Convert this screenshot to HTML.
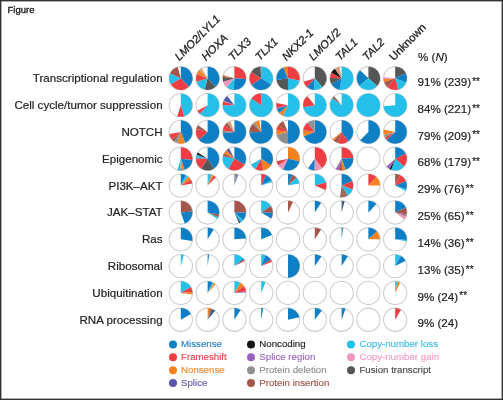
<!DOCTYPE html>
<html><head><meta charset="utf-8"><style>
html,body{margin:0;padding:0;background:#fff;}
svg{display:block;will-change:transform;}
text{font-family:"Liberation Sans",sans-serif;}
.lab{font-size:11.6px;fill:#222;stroke:#222;stroke-width:0.2px;}
.st{font-size:10px;}
.hd{font-size:11.2px;fill:#222;font-style:italic;stroke:#222;stroke-width:0.3px;}
.ur{font-style:normal;}
.lg{font-size:9.7px;}
.fig{font-size:9.5px;fill:#222;stroke:#222;stroke-width:0.35px;}
</style></head><body>
<svg width="503" height="400" viewBox="0 0 503 400">
<rect x="0" y="0" width="503" height="400" fill="#fff" stroke="#333" stroke-width="2.8"/>
<text x="7.5" y="13.2" class="fig">Figure</text>
<circle cx="180.80" cy="78.30" r="11.65" fill="#fff" stroke="#cdcdcd" stroke-width="1.1"/><path d="M180.80 78.30L180.80 66.65A11.65 11.65 0 0 1 188.75 86.82Z" fill="#0f7fc5"/><path d="M180.80 78.30L188.75 86.82A11.65 11.65 0 0 1 170.81 84.30Z" fill="#ee3d43"/><path d="M180.80 78.30L170.81 84.30A11.65 11.65 0 0 1 170.24 73.38Z" fill="#24c0e9"/><path d="M180.80 78.30L170.24 73.38A11.65 11.65 0 0 1 177.78 67.05Z" fill="#a4564b"/><circle cx="207.60" cy="78.30" r="11.65" fill="#fff" stroke="#cdcdcd" stroke-width="1.1"/><path d="M207.60 78.30L207.60 66.65A11.65 11.65 0 0 1 215.55 86.82Z" fill="#0f7fc5"/><path d="M207.60 78.30L215.55 86.82A11.65 11.65 0 0 1 204.58 89.55Z" fill="#555656"/><path d="M207.60 78.30L204.58 89.55A11.65 11.65 0 0 1 196.46 81.71Z" fill="#24c0e9"/><path d="M207.60 78.30L196.46 81.71A11.65 11.65 0 0 1 196.80 73.94Z" fill="#ee3d43"/><path d="M207.60 78.30L196.80 73.94A11.65 11.65 0 0 1 199.36 70.06Z" fill="#f5821f"/><path d="M207.60 78.30L199.36 70.06A11.65 11.65 0 0 1 201.60 68.31Z" fill="#d9a080"/><circle cx="234.40" cy="78.30" r="11.65" fill="#fff" stroke="#cdcdcd" stroke-width="1.1"/><path d="M234.40 78.30L234.40 66.65A11.65 11.65 0 0 1 246.02 79.11Z" fill="#ee3d43"/><path d="M234.40 78.30L246.02 79.11A11.65 11.65 0 0 1 233.79 89.93Z" fill="#0f7fc5"/><path d="M234.40 78.30L233.79 89.93A11.65 11.65 0 0 1 226.91 87.22Z" fill="#24c0e9"/><path d="M234.40 78.30L226.91 87.22A11.65 11.65 0 0 1 223.26 81.71Z" fill="#ee95bb"/><path d="M234.40 78.30L223.26 81.71A11.65 11.65 0 0 1 222.81 77.08Z" fill="#555656"/><path d="M234.40 78.30L222.81 77.08A11.65 11.65 0 0 1 223.05 75.68Z" fill="#a4564b"/><path d="M234.40 78.30L223.05 75.68A11.65 11.65 0 0 1 223.26 74.89Z" fill="#f5821f"/><circle cx="261.20" cy="78.30" r="11.65" fill="#fff" stroke="#cdcdcd" stroke-width="1.1"/><path d="M261.20 78.30L261.20 66.65A11.65 11.65 0 0 1 271.08 84.47Z" fill="#24c0e9"/><path d="M261.20 78.30L271.08 84.47A11.65 11.65 0 0 1 251.54 84.81Z" fill="#0f7fc5"/><path d="M261.20 78.30L251.54 84.81A11.65 11.65 0 0 1 251.21 72.30Z" fill="#ee3d43"/><path d="M261.20 78.30L251.21 72.30A11.65 11.65 0 0 1 260.39 66.68Z" fill="#555656"/><path d="M261.20 78.30L260.39 66.68A11.65 11.65 0 0 1 261.20 66.65Z" fill="#a4564b"/><circle cx="288.00" cy="78.30" r="11.65" fill="#fff" stroke="#cdcdcd" stroke-width="1.1"/><path d="M288.00 78.30L288.00 66.65A11.65 11.65 0 0 1 299.40 80.72Z" fill="#ee3d43"/><path d="M288.00 78.30L299.40 80.72A11.65 11.65 0 0 1 288.00 89.95Z" fill="#24c0e9"/><path d="M288.00 78.30L288.00 89.95A11.65 11.65 0 0 1 276.49 80.12Z" fill="#555656"/><path d="M288.00 78.30L276.49 80.12A11.65 11.65 0 0 1 283.45 67.58Z" fill="#0f7fc5"/><path d="M288.00 78.30L283.45 67.58A11.65 11.65 0 0 1 288.00 66.65Z" fill="#f5821f"/><circle cx="314.80" cy="78.30" r="11.65" fill="#fff" stroke="#cdcdcd" stroke-width="1.1"/><path d="M314.80 78.30L314.80 66.65A11.65 11.65 0 0 1 322.29 87.22Z" fill="#555656"/><path d="M314.80 78.30L322.29 87.22A11.65 11.65 0 0 1 313.78 89.91Z" fill="#24c0e9"/><path d="M314.80 78.30L313.78 89.91A11.65 11.65 0 0 1 307.00 86.96Z" fill="#0f7fc5"/><path d="M314.80 78.30L307.00 86.96A11.65 11.65 0 0 1 303.66 81.71Z" fill="#ee3d43"/><circle cx="341.60" cy="78.30" r="11.65" fill="#fff" stroke="#cdcdcd" stroke-width="1.1"/><path d="M341.60 78.30L341.60 66.65A11.65 11.65 0 1 1 339.58 89.77Z" fill="#24c0e9"/><path d="M341.60 78.30L339.58 89.77A11.65 11.65 0 0 1 331.51 84.12Z" fill="#0f7fc5"/><path d="M341.60 78.30L331.51 84.12A11.65 11.65 0 0 1 329.96 77.89Z" fill="#555656"/><path d="M341.60 78.30L329.96 77.89A11.65 11.65 0 0 1 331.31 72.83Z" fill="#ee3d43"/><path d="M341.60 78.30L331.31 72.83A11.65 11.65 0 0 1 334.92 68.76Z" fill="#151515"/><path d="M341.60 78.30L334.92 68.76A11.65 11.65 0 0 1 339.58 66.83Z" fill="#d9a080"/><circle cx="368.40" cy="78.30" r="11.65" fill="#fff" stroke="#cdcdcd" stroke-width="1.1"/><path d="M368.40 78.30L368.40 66.65A11.65 11.65 0 0 1 377.06 86.10Z" fill="#555656"/><path d="M368.40 78.30L377.06 86.10A11.65 11.65 0 0 1 359.35 85.63Z" fill="#24c0e9"/><path d="M368.40 78.30L359.35 85.63A11.65 11.65 0 0 1 360.02 70.21Z" fill="#0f7fc5"/><circle cx="395.20" cy="78.30" r="11.65" fill="#fff" stroke="#cdcdcd" stroke-width="1.1"/><path d="M395.20 78.30L395.20 66.65A11.65 11.65 0 0 1 405.84 73.56Z" fill="#555656"/><path d="M395.20 78.30L405.84 73.56A11.65 11.65 0 0 1 406.00 82.66Z" fill="#0f7fc5"/><path d="M395.20 78.30L406.00 82.66A11.65 11.65 0 0 1 398.22 89.55Z" fill="#24c0e9"/><path d="M395.20 78.30L398.22 89.55A11.65 11.65 0 0 1 387.40 86.96Z" fill="#ee3d43"/><path d="M395.20 78.30L387.40 86.96A11.65 11.65 0 0 1 384.12 81.90Z" fill="#a4564b"/><path d="M395.20 78.30L384.12 81.90A11.65 11.65 0 0 1 383.58 79.11Z" fill="#f5821f"/><path d="M395.20 78.30L383.58 79.11A11.65 11.65 0 0 1 383.64 76.88Z" fill="#ee95bb"/><circle cx="180.80" cy="105.13" r="11.65" fill="#fff" stroke="#cdcdcd" stroke-width="1.1"/><path d="M180.80 105.13L180.80 93.48A11.65 11.65 0 0 1 184.21 116.27Z" fill="#24c0e9"/><path d="M180.80 105.13L184.21 116.27A11.65 11.65 0 0 1 177.20 116.21Z" fill="#ee3d43"/><circle cx="207.60" cy="105.13" r="11.65" fill="#fff" stroke="#cdcdcd" stroke-width="1.1"/><path d="M207.60 105.13L207.60 93.48A11.65 11.65 0 1 1 199.80 113.79Z" fill="#24c0e9"/><path d="M207.60 105.13L199.80 113.79A11.65 11.65 0 0 1 197.41 110.78Z" fill="#ee3d43"/><circle cx="234.40" cy="105.13" r="11.65" fill="#fff" stroke="#cdcdcd" stroke-width="1.1"/><path d="M234.40 105.13L234.40 93.48A11.65 11.65 0 1 1 222.75 105.13Z" fill="#24c0e9"/><path d="M234.40 105.13L222.75 105.13A11.65 11.65 0 0 1 223.38 101.34Z" fill="#ee3d43"/><path d="M234.40 105.13L223.60 100.77A11.65 11.65 0 0 1 227.23 95.95Z" fill="#4a5ca8"/><circle cx="261.20" cy="105.13" r="11.65" fill="#fff" stroke="#cdcdcd" stroke-width="1.1"/><path d="M261.20 105.13L261.20 93.48A11.65 11.65 0 1 1 251.54 98.62Z" fill="#24c0e9"/><path d="M261.20 105.13L251.54 98.62A11.65 11.65 0 0 1 261.20 93.48Z" fill="#ee3d43"/><circle cx="288.00" cy="105.13" r="11.65" fill="#fff" stroke="#cdcdcd" stroke-width="1.1"/><path d="M288.00 105.13L288.00 93.48A11.65 11.65 0 1 1 283.08 115.69Z" fill="#24c0e9"/><path d="M288.00 105.13L283.08 115.69A11.65 11.65 0 0 1 279.34 112.93Z" fill="#f5821f"/><path d="M288.00 105.13L279.34 112.93A11.65 11.65 0 0 1 276.92 108.73Z" fill="#0f7fc5"/><path d="M288.00 105.13L276.92 108.73A11.65 11.65 0 0 1 276.70 107.95Z" fill="#9b5fbf"/><path d="M288.00 105.13L276.70 107.95A11.65 11.65 0 0 1 276.53 103.11Z" fill="#ee3d43"/><circle cx="314.80" cy="105.13" r="11.65" fill="#fff" stroke="#cdcdcd" stroke-width="1.1"/><path d="M314.80 105.13L314.80 93.48A11.65 11.65 0 1 1 303.36 107.35Z" fill="#24c0e9"/><path d="M314.80 105.13L303.36 107.35A11.65 11.65 0 0 1 307.31 96.21Z" fill="#ee3d43"/><circle cx="341.60" cy="105.13" r="11.65" fill="#fff" stroke="#cdcdcd" stroke-width="1.1"/><path d="M341.60 105.13L341.60 93.48A11.65 11.65 0 1 1 332.30 98.12Z" fill="#24c0e9"/><path d="M341.60 105.13L332.30 98.12A11.65 11.65 0 0 1 334.11 96.21Z" fill="#a4564b"/><circle cx="368.40" cy="105.13" r="11.65" fill="#fff" stroke="#cdcdcd" stroke-width="1.1"/><circle cx="368.40" cy="105.13" r="11.65" fill="#24c0e9"/><circle cx="395.20" cy="105.13" r="11.65" fill="#fff" stroke="#cdcdcd" stroke-width="1.1"/><path d="M395.20 105.13L395.20 93.48A11.65 11.65 0 1 1 383.59 106.15Z" fill="#24c0e9"/><circle cx="180.80" cy="131.96" r="11.65" fill="#fff" stroke="#cdcdcd" stroke-width="1.1"/><path d="M180.80 131.96L180.80 120.31A11.65 11.65 0 0 1 185.16 142.76Z" fill="#0f7fc5"/><path d="M180.80 131.96L185.16 142.76A11.65 11.65 0 0 1 177.39 143.10Z" fill="#f5821f"/><path d="M180.80 131.96L177.39 143.10A11.65 11.65 0 0 1 174.29 141.62Z" fill="#8e9090"/><path d="M180.80 131.96L174.29 141.62A11.65 11.65 0 0 1 171.62 139.13Z" fill="#a4564b"/><path d="M180.80 131.96L171.62 139.13A11.65 11.65 0 0 1 169.33 133.98Z" fill="#ee3d43"/><circle cx="207.60" cy="131.96" r="11.65" fill="#fff" stroke="#cdcdcd" stroke-width="1.1"/><path d="M207.60 131.96L207.60 120.31A11.65 11.65 0 1 1 198.94 139.76Z" fill="#0f7fc5"/><path d="M207.60 131.96L198.94 139.76A11.65 11.65 0 0 1 196.35 128.94Z" fill="#ee3d43"/><path d="M207.60 131.96L196.35 128.94A11.65 11.65 0 0 1 198.06 125.28Z" fill="#a4564b"/><circle cx="234.40" cy="131.96" r="11.65" fill="#fff" stroke="#cdcdcd" stroke-width="1.1"/><path d="M234.40 131.96L234.40 120.31A11.65 11.65 0 1 1 222.81 133.18Z" fill="#0f7fc5"/><path d="M234.40 131.96L222.81 133.18A11.65 11.65 0 0 1 222.84 130.54Z" fill="#8e9090"/><path d="M234.40 131.96L222.84 130.54A11.65 11.65 0 0 1 224.63 125.61Z" fill="#ee3d43"/><path d="M234.40 131.96L224.63 125.61A11.65 11.65 0 0 1 227.23 122.78Z" fill="#a4564b"/><path d="M234.40 131.96L227.23 122.78A11.65 11.65 0 0 1 230.42 121.01Z" fill="#d9a080"/><circle cx="261.20" cy="131.96" r="11.65" fill="#fff" stroke="#cdcdcd" stroke-width="1.1"/><path d="M261.20 131.96L261.20 120.31A11.65 11.65 0 1 1 249.56 132.37Z" fill="#0f7fc5"/><path d="M261.20 131.96L249.56 132.37A11.65 11.65 0 0 1 252.96 123.72Z" fill="#a4564b"/><path d="M261.20 131.96L252.96 123.72A11.65 11.65 0 0 1 254.85 122.19Z" fill="#8e9090"/><path d="M261.20 131.96L254.85 122.19A11.65 11.65 0 0 1 259.18 120.49Z" fill="#f5821f"/><circle cx="288.00" cy="131.96" r="11.65" fill="#fff" stroke="#cdcdcd" stroke-width="1.1"/><path d="M288.00 131.96L288.00 120.31A11.65 11.65 0 0 1 288.00 143.61Z" fill="#0f7fc5"/><path d="M288.00 131.96L288.00 143.61A11.65 11.65 0 0 1 276.60 134.38Z" fill="#8e9090"/><path d="M288.00 131.96L276.60 134.38A11.65 11.65 0 0 1 276.46 130.34Z" fill="#f5821f"/><path d="M288.00 131.96L276.46 130.34A11.65 11.65 0 0 1 278.46 125.28Z" fill="#ee3d43"/><path d="M288.00 131.96L278.46 125.28A11.65 11.65 0 0 1 283.26 121.32Z" fill="#a4564b"/><circle cx="314.80" cy="131.96" r="11.65" fill="#fff" stroke="#cdcdcd" stroke-width="1.1"/><path d="M314.80 131.96L314.80 120.31A11.65 11.65 0 1 1 303.85 135.94Z" fill="#0f7fc5"/><path d="M314.80 131.96L303.85 135.94A11.65 11.65 0 0 1 303.26 130.34Z" fill="#f5821f"/><path d="M314.80 131.96L303.26 130.34A11.65 11.65 0 0 1 307.63 122.78Z" fill="#ee3d43"/><path d="M314.80 131.96L307.63 122.78A11.65 11.65 0 0 1 314.39 120.32Z" fill="#8e9090"/><circle cx="341.60" cy="131.96" r="11.65" fill="#fff" stroke="#cdcdcd" stroke-width="1.1"/><path d="M341.60 131.96L341.60 120.31A11.65 11.65 0 0 1 348.11 141.62Z" fill="#0f7fc5"/><path d="M341.60 131.96L348.11 141.62A11.65 11.65 0 0 1 338.19 143.10Z" fill="#ee3d43"/><path d="M341.60 131.96L338.19 143.10A11.65 11.65 0 0 1 333.80 140.62Z" fill="#a4564b"/><path d="M341.60 131.96L333.80 140.62A11.65 11.65 0 0 1 332.42 139.13Z" fill="#f5821f"/><circle cx="368.40" cy="131.96" r="11.65" fill="#fff" stroke="#cdcdcd" stroke-width="1.1"/><path d="M368.40 131.96L368.40 120.31A11.65 11.65 0 1 1 360.16 140.20Z" fill="#0f7fc5"/><circle cx="395.20" cy="131.96" r="11.65" fill="#fff" stroke="#cdcdcd" stroke-width="1.1"/><path d="M395.20 131.96L395.20 120.31A11.65 11.65 0 1 1 386.54 139.76Z" fill="#0f7fc5"/><path d="M395.20 131.96L386.54 139.76A11.65 11.65 0 0 1 384.82 137.25Z" fill="#ee3d43"/><path d="M395.20 131.96L384.82 137.25A11.65 11.65 0 0 1 383.90 134.78Z" fill="#8e9090"/><path d="M395.20 131.96L383.90 134.78A11.65 11.65 0 0 1 383.80 129.54Z" fill="#f5821f"/><circle cx="180.80" cy="158.79" r="11.65" fill="#fff" stroke="#cdcdcd" stroke-width="1.1"/><path d="M180.80 158.79L180.80 147.14A11.65 11.65 0 0 1 192.39 160.01Z" fill="#ee3d43"/><path d="M180.80 158.79L192.39 160.01A11.65 11.65 0 0 1 184.40 169.87Z" fill="#0f7fc5"/><path d="M180.80 158.79L184.40 169.87A11.65 11.65 0 0 1 182.02 170.38Z" fill="#f5821f"/><path d="M180.80 158.79L182.02 170.38A11.65 11.65 0 0 1 180.19 170.42Z" fill="#8e9090"/><path d="M180.80 158.79L180.19 170.42A11.65 11.65 0 0 1 177.39 169.93Z" fill="#24c0e9"/><circle cx="207.60" cy="158.79" r="11.65" fill="#fff" stroke="#cdcdcd" stroke-width="1.1"/><path d="M207.60 158.79L207.60 147.14A11.65 11.65 0 0 1 213.77 168.67Z" fill="#0f7fc5"/><path d="M207.60 158.79L213.77 168.67A11.65 11.65 0 0 1 201.25 168.56Z" fill="#555656"/><path d="M207.60 158.79L201.25 168.56A11.65 11.65 0 0 1 195.96 159.20Z" fill="#ee3d43"/><path d="M207.60 158.79L195.96 159.20A11.65 11.65 0 0 1 196.01 157.57Z" fill="#a07890"/><path d="M207.60 158.79L196.01 157.57A11.65 11.65 0 0 1 196.80 154.43Z" fill="#24c0e9"/><path d="M207.60 158.79L196.80 154.43A11.65 11.65 0 0 1 197.72 152.62Z" fill="#151515"/><circle cx="234.40" cy="158.79" r="11.65" fill="#fff" stroke="#cdcdcd" stroke-width="1.1"/><path d="M234.40 158.79L234.40 147.14A11.65 11.65 0 0 1 244.49 164.61Z" fill="#0f7fc5"/><path d="M234.40 158.79L244.49 164.61A11.65 11.65 0 0 1 228.23 168.67Z" fill="#ee3d43"/><path d="M234.40 158.79L228.23 168.67A11.65 11.65 0 0 1 223.00 156.37Z" fill="#24c0e9"/><path d="M234.40 158.79L223.00 156.37A11.65 11.65 0 0 1 224.11 153.32Z" fill="#a4564b"/><path d="M234.40 158.79L224.11 153.32A11.65 11.65 0 0 1 226.60 150.13Z" fill="#f5821f"/><path d="M234.40 158.79L226.60 150.13A11.65 11.65 0 0 1 229.11 148.41Z" fill="#5c54a8"/><circle cx="261.20" cy="158.79" r="11.65" fill="#fff" stroke="#cdcdcd" stroke-width="1.1"/><path d="M261.20 158.79L261.20 147.14A11.65 11.65 0 0 1 270.97 165.14Z" fill="#0f7fc5"/><path d="M261.20 158.79L270.97 165.14A11.65 11.65 0 0 1 263.02 170.30Z" fill="#f5821f"/><path d="M261.20 158.79L263.02 170.30A11.65 11.65 0 0 1 255.38 168.88Z" fill="#ee3d43"/><path d="M261.20 158.79L255.38 168.88A11.65 11.65 0 0 1 251.11 164.62Z" fill="#24c0e9"/><circle cx="288.00" cy="158.79" r="11.65" fill="#fff" stroke="#cdcdcd" stroke-width="1.1"/><path d="M288.00 158.79L288.00 147.14A11.65 11.65 0 0 1 299.40 161.21Z" fill="#f5821f"/><path d="M288.00 158.79L299.40 161.21A11.65 11.65 0 0 1 282.89 169.26Z" fill="#0f7fc5"/><path d="M288.00 158.79L282.89 169.26A11.65 11.65 0 0 1 278.34 165.30Z" fill="#ee95bb"/><path d="M288.00 158.79L278.34 165.30A11.65 11.65 0 0 1 276.60 161.21Z" fill="#ee3d43"/><circle cx="314.80" cy="158.79" r="11.65" fill="#fff" stroke="#cdcdcd" stroke-width="1.1"/><path d="M314.80 158.79L314.80 147.14A11.65 11.65 0 0 1 321.97 167.97Z" fill="#ee3d43"/><path d="M314.80 158.79L321.97 167.97A11.65 11.65 0 0 1 314.39 170.43Z" fill="#ee95bb"/><path d="M314.80 158.79L314.39 170.43A11.65 11.65 0 0 1 308.12 168.33Z" fill="#0f7fc5"/><circle cx="341.60" cy="158.79" r="11.65" fill="#fff" stroke="#cdcdcd" stroke-width="1.1"/><path d="M341.60 158.79L341.60 147.14A11.65 11.65 0 0 1 353.22 157.98Z" fill="#ee3d43"/><path d="M341.60 158.79L353.22 157.98A11.65 11.65 0 0 1 345.58 169.74Z" fill="#0f7fc5"/><path d="M341.60 158.79L345.58 169.74A11.65 11.65 0 0 1 342.01 170.43Z" fill="#f5821f"/><path d="M341.60 158.79L342.01 170.43A11.65 11.65 0 0 1 338.58 170.04Z" fill="#a4564b"/><path d="M341.60 158.79L338.58 170.04A11.65 11.65 0 0 1 335.78 168.88Z" fill="#9b5fbf"/><circle cx="368.40" cy="158.79" r="11.65" fill="#fff" stroke="#cdcdcd" stroke-width="1.1"/><circle cx="395.20" cy="158.79" r="11.65" fill="#fff" stroke="#cdcdcd" stroke-width="1.1"/><path d="M395.20 158.79L395.20 147.14A11.65 11.65 0 0 1 405.76 153.87Z" fill="#0f7fc5"/><path d="M395.20 158.79L405.76 153.87A11.65 11.65 0 0 1 403.99 166.43Z" fill="#ee3d43"/><path d="M395.20 158.79L403.99 166.43A11.65 11.65 0 0 1 391.22 169.74Z" fill="#24c0e9"/><path d="M395.20 158.79L391.22 169.74A11.65 11.65 0 0 1 389.38 168.88Z" fill="#151515"/><path d="M395.20 158.79L389.38 168.88A11.65 11.65 0 0 1 386.54 166.59Z" fill="#9b5fbf"/><circle cx="180.80" cy="185.62" r="11.65" fill="#fff" stroke="#cdcdcd" stroke-width="1.1"/><path d="M180.80 185.62L180.80 173.97A11.65 11.65 0 0 1 185.72 175.06Z" fill="#0f7fc5"/><path d="M180.80 185.62L185.72 175.06A11.65 11.65 0 0 1 187.97 176.44Z" fill="#24c0e9"/><path d="M180.80 185.62L187.97 176.44A11.65 11.65 0 0 1 188.44 176.83Z" fill="#8e9090"/><path d="M180.80 185.62L188.44 176.83A11.65 11.65 0 0 1 190.89 179.80Z" fill="#f5821f"/><path d="M180.80 185.62L190.89 179.80A11.65 11.65 0 0 1 192.27 183.60Z" fill="#ee3d43"/><circle cx="207.60" cy="185.62" r="11.65" fill="#fff" stroke="#cdcdcd" stroke-width="1.1"/><path d="M207.60 185.62L207.60 173.97A11.65 11.65 0 0 1 211.01 174.48Z" fill="#24c0e9"/><path d="M207.60 185.62L211.01 174.48A11.65 11.65 0 0 1 211.96 174.82Z" fill="#8e9090"/><path d="M207.60 185.62L211.96 174.82A11.65 11.65 0 0 1 213.95 175.85Z" fill="#f5821f"/><path d="M207.60 185.62L213.95 175.85A11.65 11.65 0 0 1 215.84 177.38Z" fill="#ee3d43"/><circle cx="234.40" cy="185.62" r="11.65" fill="#fff" stroke="#cdcdcd" stroke-width="1.1"/><path d="M234.40 185.62L234.40 173.97A11.65 11.65 0 0 1 236.22 174.11Z" fill="#a07890"/><path d="M234.40 185.62L236.22 174.11A11.65 11.65 0 0 1 238.38 174.67Z" fill="#6a8aaa"/><circle cx="261.20" cy="185.62" r="11.65" fill="#fff" stroke="#cdcdcd" stroke-width="1.1"/><path d="M261.20 185.62L261.20 173.97A11.65 11.65 0 0 1 266.12 175.06Z" fill="#ee3d43"/><path d="M261.20 185.62L266.12 175.06A11.65 11.65 0 0 1 271.49 180.15Z" fill="#0f7fc5"/><path d="M261.20 185.62L271.49 180.15A11.65 11.65 0 0 1 272.28 182.02Z" fill="#24c0e9"/><circle cx="288.00" cy="185.62" r="11.65" fill="#fff" stroke="#cdcdcd" stroke-width="1.1"/><path d="M288.00 185.62L288.00 173.97A11.65 11.65 0 0 1 292.36 174.82Z" fill="#0f7fc5"/><path d="M288.00 185.62L292.36 174.82A11.65 11.65 0 0 1 296.66 177.82Z" fill="#a4564b"/><path d="M288.00 185.62L296.66 177.82A11.65 11.65 0 0 1 299.47 183.60Z" fill="#24c0e9"/><circle cx="314.80" cy="185.62" r="11.65" fill="#fff" stroke="#cdcdcd" stroke-width="1.1"/><path d="M314.80 185.62L314.80 173.97A11.65 11.65 0 0 1 326.05 182.60Z" fill="#24c0e9"/><path d="M314.80 185.62L326.05 182.60A11.65 11.65 0 0 1 325.60 189.98Z" fill="#ee3d43"/><circle cx="341.60" cy="185.62" r="11.65" fill="#fff" stroke="#cdcdcd" stroke-width="1.1"/><path d="M341.60 185.62L341.60 173.97A11.65 11.65 0 0 1 352.32 181.07Z" fill="#0f7fc5"/><path d="M341.60 185.62L352.32 181.07A11.65 11.65 0 0 1 352.55 189.60Z" fill="#ee3d43"/><path d="M341.60 185.62L352.55 189.60A11.65 11.65 0 0 1 347.77 195.50Z" fill="#24c0e9"/><path d="M341.60 185.62L347.77 195.50A11.65 11.65 0 0 1 339.98 197.16Z" fill="#9a6a5a"/><circle cx="368.40" cy="185.62" r="11.65" fill="#fff" stroke="#cdcdcd" stroke-width="1.1"/><path d="M368.40 185.62L368.40 173.97A11.65 11.65 0 0 1 376.35 177.10Z" fill="#ee3d43"/><path d="M368.40 185.62L376.35 177.10A11.65 11.65 0 0 1 380.05 185.62Z" fill="#f5821f"/><circle cx="395.20" cy="185.62" r="11.65" fill="#fff" stroke="#cdcdcd" stroke-width="1.1"/><path d="M395.20 185.62L395.20 173.97A11.65 11.65 0 0 1 400.31 175.15Z" fill="#a4564b"/><path d="M395.20 185.62L400.31 175.15A11.65 11.65 0 0 1 406.00 181.26Z" fill="#ee3d43"/><path d="M395.20 185.62L406.00 181.26A11.65 11.65 0 0 1 406.28 189.22Z" fill="#0f7fc5"/><path d="M395.20 185.62L406.28 189.22A11.65 11.65 0 0 1 405.49 191.09Z" fill="#24c0e9"/><circle cx="180.80" cy="212.45" r="11.65" fill="#fff" stroke="#cdcdcd" stroke-width="1.1"/><path d="M180.80 212.45L180.80 200.80A11.65 11.65 0 0 1 192.41 211.43Z" fill="#a4564b"/><path d="M180.80 212.45L192.41 211.43A11.65 11.65 0 0 1 184.78 223.40Z" fill="#0f7fc5"/><circle cx="207.60" cy="212.45" r="11.65" fill="#fff" stroke="#cdcdcd" stroke-width="1.1"/><path d="M207.60 212.45L207.60 200.80A11.65 11.65 0 0 1 219.07 214.47Z" fill="#0f7fc5"/><path d="M207.60 212.45L219.07 214.47A11.65 11.65 0 0 1 218.16 217.37Z" fill="#a4564b"/><path d="M207.60 212.45L218.16 217.37A11.65 11.65 0 0 1 217.26 218.96Z" fill="#24c0e9"/><circle cx="234.40" cy="212.45" r="11.65" fill="#fff" stroke="#cdcdcd" stroke-width="1.1"/><path d="M234.40 212.45L234.40 200.80A11.65 11.65 0 0 1 246.05 212.45Z" fill="#a4564b"/><path d="M234.40 212.45L246.05 212.45A11.65 11.65 0 0 1 243.06 220.25Z" fill="#0f7fc5"/><path d="M234.40 212.45L243.06 220.25A11.65 11.65 0 0 1 240.22 222.54Z" fill="#24c0e9"/><path d="M234.40 212.45L240.22 222.54A11.65 11.65 0 0 1 239.14 223.09Z" fill="#151515"/><circle cx="261.20" cy="212.45" r="11.65" fill="#fff" stroke="#cdcdcd" stroke-width="1.1"/><path d="M261.20 212.45L261.20 200.80A11.65 11.65 0 0 1 270.97 206.10Z" fill="#24c0e9"/><path d="M261.20 212.45L270.97 206.10A11.65 11.65 0 0 1 272.84 212.86Z" fill="#a4564b"/><path d="M261.20 212.45L272.84 212.86A11.65 11.65 0 0 1 271.08 218.62Z" fill="#0f7fc5"/><circle cx="288.00" cy="212.45" r="11.65" fill="#fff" stroke="#cdcdcd" stroke-width="1.1"/><path d="M288.00 212.45L288.00 200.80A11.65 11.65 0 0 1 292.92 201.89Z" fill="#a4564b"/><circle cx="314.80" cy="212.45" r="11.65" fill="#fff" stroke="#cdcdcd" stroke-width="1.1"/><path d="M314.80 212.45L314.80 200.80A11.65 11.65 0 0 1 321.15 202.68Z" fill="#0f7fc5"/><circle cx="341.60" cy="212.45" r="11.65" fill="#fff" stroke="#cdcdcd" stroke-width="1.1"/><path d="M341.60 212.45L341.60 200.80A11.65 11.65 0 0 1 344.62 201.20Z" fill="#3d5f82"/><circle cx="368.40" cy="212.45" r="11.65" fill="#fff" stroke="#cdcdcd" stroke-width="1.1"/><path d="M368.40 212.45L368.40 200.80A11.65 11.65 0 0 1 376.35 203.93Z" fill="#0f7fc5"/><circle cx="395.20" cy="212.45" r="11.65" fill="#fff" stroke="#cdcdcd" stroke-width="1.1"/><path d="M395.20 212.45L395.20 200.80A11.65 11.65 0 0 1 405.84 207.71Z" fill="#0f7fc5"/><path d="M395.20 212.45L405.84 207.71A11.65 11.65 0 0 1 406.67 214.47Z" fill="#a4564b"/><path d="M395.20 212.45L406.67 214.47A11.65 11.65 0 0 1 406.00 216.81Z" fill="#a07890"/><path d="M395.20 212.45L406.00 216.81A11.65 11.65 0 0 1 404.50 219.46Z" fill="#ee95bb"/><circle cx="180.80" cy="239.28" r="11.65" fill="#fff" stroke="#cdcdcd" stroke-width="1.1"/><path d="M180.80 239.28L180.80 227.63A11.65 11.65 0 0 1 192.34 240.90Z" fill="#0f7fc5"/><circle cx="207.60" cy="239.28" r="11.65" fill="#fff" stroke="#cdcdcd" stroke-width="1.1"/><path d="M207.60 239.28L207.60 227.63A11.65 11.65 0 0 1 213.77 229.40Z" fill="#0f7fc5"/><circle cx="234.40" cy="239.28" r="11.65" fill="#fff" stroke="#cdcdcd" stroke-width="1.1"/><path d="M234.40 239.28L234.40 227.63A11.65 11.65 0 0 1 246.02 238.47Z" fill="#0f7fc5"/><circle cx="261.20" cy="239.28" r="11.65" fill="#fff" stroke="#cdcdcd" stroke-width="1.1"/><path d="M261.20 239.28L261.20 227.63A11.65 11.65 0 0 1 272.00 234.92Z" fill="#0f7fc5"/><circle cx="288.00" cy="239.28" r="11.65" fill="#fff" stroke="#cdcdcd" stroke-width="1.1"/><circle cx="314.80" cy="239.28" r="11.65" fill="#fff" stroke="#cdcdcd" stroke-width="1.1"/><path d="M314.80 239.28L314.80 227.63A11.65 11.65 0 0 1 321.15 229.51Z" fill="#a4564b"/><circle cx="341.60" cy="239.28" r="11.65" fill="#fff" stroke="#cdcdcd" stroke-width="1.1"/><path d="M341.60 239.28L341.60 227.63A11.65 11.65 0 0 1 343.22 227.74Z" fill="#0f7fc5"/><circle cx="368.40" cy="239.28" r="11.65" fill="#fff" stroke="#cdcdcd" stroke-width="1.1"/><path d="M368.40 239.28L368.40 227.63A11.65 11.65 0 0 1 377.06 231.48Z" fill="#0f7fc5"/><path d="M368.40 239.28L377.06 231.48A11.65 11.65 0 0 1 380.05 239.28Z" fill="#f5821f"/><circle cx="395.20" cy="239.28" r="11.65" fill="#fff" stroke="#cdcdcd" stroke-width="1.1"/><path d="M395.20 239.28L395.20 227.63A11.65 11.65 0 0 1 406.83 239.89Z" fill="#0f7fc5"/><path d="M395.20 239.28L406.83 239.89A11.65 11.65 0 0 1 406.67 241.30Z" fill="#24c0e9"/><circle cx="180.80" cy="266.11" r="11.65" fill="#fff" stroke="#cdcdcd" stroke-width="1.1"/><path d="M180.80 266.11L180.80 254.46A11.65 11.65 0 0 1 183.82 254.86Z" fill="#24c0e9"/><circle cx="207.60" cy="266.11" r="11.65" fill="#fff" stroke="#cdcdcd" stroke-width="1.1"/><path d="M207.60 266.11L207.60 254.46A11.65 11.65 0 0 1 209.22 254.57Z" fill="#0f7fc5"/><circle cx="234.40" cy="266.11" r="11.65" fill="#fff" stroke="#cdcdcd" stroke-width="1.1"/><path d="M234.40 266.11L234.40 254.46A11.65 11.65 0 0 1 243.06 258.31Z" fill="#24c0e9"/><path d="M234.40 266.11L243.06 258.31A11.65 11.65 0 0 1 244.17 259.76Z" fill="#0f7fc5"/><path d="M234.40 266.11L244.17 259.76A11.65 11.65 0 0 1 244.87 261.00Z" fill="#ee3d43"/><circle cx="261.20" cy="266.11" r="11.65" fill="#fff" stroke="#cdcdcd" stroke-width="1.1"/><path d="M261.20 266.11L261.20 254.46A11.65 11.65 0 0 1 265.56 255.31Z" fill="#24c0e9"/><path d="M261.20 266.11L265.56 255.31A11.65 11.65 0 0 1 270.86 259.60Z" fill="#0f7fc5"/><path d="M261.20 266.11L270.86 259.60A11.65 11.65 0 0 1 272.00 261.75Z" fill="#ee3d43"/><circle cx="288.00" cy="266.11" r="11.65" fill="#fff" stroke="#cdcdcd" stroke-width="1.1"/><path d="M288.00 266.11L288.00 254.46A11.65 11.65 0 0 1 288.00 277.76Z" fill="#0f7fc5"/><circle cx="314.80" cy="266.11" r="11.65" fill="#fff" stroke="#cdcdcd" stroke-width="1.1"/><path d="M314.80 266.11L314.80 254.46A11.65 11.65 0 0 1 321.48 256.57Z" fill="#0f7fc5"/><circle cx="341.60" cy="266.11" r="11.65" fill="#fff" stroke="#cdcdcd" stroke-width="1.1"/><path d="M341.60 266.11L341.60 254.46A11.65 11.65 0 0 1 347.95 256.34Z" fill="#0f7fc5"/><circle cx="368.40" cy="266.11" r="11.65" fill="#fff" stroke="#cdcdcd" stroke-width="1.1"/><circle cx="395.20" cy="266.11" r="11.65" fill="#fff" stroke="#cdcdcd" stroke-width="1.1"/><path d="M395.20 266.11L395.20 254.46A11.65 11.65 0 0 1 401.03 256.02Z" fill="#24c0e9"/><path d="M395.20 266.11L401.03 256.02A11.65 11.65 0 0 1 405.49 260.64Z" fill="#0f7fc5"/><circle cx="180.80" cy="292.94" r="11.65" fill="#fff" stroke="#cdcdcd" stroke-width="1.1"/><path d="M180.80 292.94L180.80 281.29A11.65 11.65 0 0 1 190.89 287.12Z" fill="#24c0e9"/><path d="M180.80 292.94L190.89 287.12A11.65 11.65 0 0 1 192.41 291.92Z" fill="#ee3d43"/><path d="M180.80 292.94L192.41 291.92A11.65 11.65 0 0 1 192.34 294.56Z" fill="#f5821f"/><circle cx="207.60" cy="292.94" r="11.65" fill="#fff" stroke="#cdcdcd" stroke-width="1.1"/><path d="M207.60 292.94L207.60 281.29A11.65 11.65 0 0 1 212.52 282.38Z" fill="#0f7fc5"/><path d="M207.60 292.94L212.52 282.38A11.65 11.65 0 0 1 213.77 283.06Z" fill="#24c0e9"/><path d="M207.60 292.94L213.77 283.06A11.65 11.65 0 0 1 215.40 284.28Z" fill="#f5821f"/><circle cx="234.40" cy="292.94" r="11.65" fill="#fff" stroke="#cdcdcd" stroke-width="1.1"/><path d="M234.40 292.94L234.40 281.29A11.65 11.65 0 0 1 240.22 282.85Z" fill="#24c0e9"/><path d="M234.40 292.94L240.22 282.85A11.65 11.65 0 0 1 243.94 286.26Z" fill="#f5821f"/><path d="M234.40 292.94L243.94 286.26A11.65 11.65 0 0 1 245.94 291.32Z" fill="#ee3d43"/><path d="M234.40 292.94L245.94 291.32A11.65 11.65 0 0 1 246.04 292.53Z" fill="#9b5fbf"/><circle cx="261.20" cy="292.94" r="11.65" fill="#fff" stroke="#cdcdcd" stroke-width="1.1"/><path d="M261.20 292.94L261.20 281.29A11.65 11.65 0 0 1 265.56 282.14Z" fill="#24c0e9"/><circle cx="288.00" cy="292.94" r="11.65" fill="#fff" stroke="#cdcdcd" stroke-width="1.1"/><circle cx="314.80" cy="292.94" r="11.65" fill="#fff" stroke="#cdcdcd" stroke-width="1.1"/><circle cx="341.60" cy="292.94" r="11.65" fill="#fff" stroke="#cdcdcd" stroke-width="1.1"/><circle cx="368.40" cy="292.94" r="11.65" fill="#fff" stroke="#cdcdcd" stroke-width="1.1"/><circle cx="395.20" cy="292.94" r="11.65" fill="#fff" stroke="#cdcdcd" stroke-width="1.1"/><path d="M395.20 292.94L395.20 281.29A11.65 11.65 0 0 1 397.62 281.54Z" fill="#24c0e9"/><path d="M395.20 292.94L397.62 281.54A11.65 11.65 0 0 1 400.12 282.38Z" fill="#f5821f"/><circle cx="180.80" cy="319.77" r="11.65" fill="#fff" stroke="#cdcdcd" stroke-width="1.1"/><path d="M180.80 319.77L180.80 308.12A11.65 11.65 0 0 1 190.89 313.94Z" fill="#0f7fc5"/><circle cx="207.60" cy="319.77" r="11.65" fill="#fff" stroke="#cdcdcd" stroke-width="1.1"/><path d="M207.60 319.77L207.60 308.12A11.65 11.65 0 0 1 210.22 308.42Z" fill="#f5821f"/><path d="M207.60 319.77L210.22 308.42A11.65 11.65 0 0 1 211.96 308.97Z" fill="#a4564b"/><path d="M207.60 319.77L211.96 308.97A11.65 11.65 0 0 1 215.09 310.85Z" fill="#3d5f82"/><circle cx="234.40" cy="319.77" r="11.65" fill="#fff" stroke="#cdcdcd" stroke-width="1.1"/><path d="M234.40 319.77L234.40 308.12A11.65 11.65 0 0 1 240.57 309.89Z" fill="#0f7fc5"/><circle cx="261.20" cy="319.77" r="11.65" fill="#fff" stroke="#cdcdcd" stroke-width="1.1"/><path d="M261.20 319.77L261.20 308.12A11.65 11.65 0 0 1 263.22 308.30Z" fill="#0f7fc5"/><circle cx="288.00" cy="319.77" r="11.65" fill="#fff" stroke="#cdcdcd" stroke-width="1.1"/><path d="M288.00 319.77L288.00 308.12A11.65 11.65 0 0 1 299.40 317.35Z" fill="#0f7fc5"/><circle cx="314.80" cy="319.77" r="11.65" fill="#fff" stroke="#cdcdcd" stroke-width="1.1"/><path d="M314.80 319.77L314.80 308.12A11.65 11.65 0 0 1 321.81 310.47Z" fill="#0f7fc5"/><circle cx="341.60" cy="319.77" r="11.65" fill="#fff" stroke="#cdcdcd" stroke-width="1.1"/><path d="M341.60 319.77L341.60 308.12A11.65 11.65 0 0 1 345.58 308.82Z" fill="#0f7fc5"/><circle cx="368.40" cy="319.77" r="11.65" fill="#fff" stroke="#cdcdcd" stroke-width="1.1"/><circle cx="395.20" cy="319.77" r="11.65" fill="#fff" stroke="#cdcdcd" stroke-width="1.1"/><path d="M395.20 319.77L395.20 308.12A11.65 11.65 0 0 1 401.03 309.68Z" fill="#ee3d43"/>
<text x="162.6" y="82.20" class="lab" text-anchor="end">Transcriptional regulation</text><text x="417.5" y="85.90" class="lab">91% (239)<tspan class="st" dx="1.2" dy="-1.2">**</tspan></text><text x="162.6" y="109.03" class="lab" text-anchor="end">Cell cycle/tumor suppression</text><text x="417.5" y="112.73" class="lab">84% (221)<tspan class="st" dx="1.2" dy="-1.2">**</tspan></text><text x="162.6" y="135.86" class="lab" text-anchor="end">NOTCH</text><text x="417.5" y="139.56" class="lab">79% (209)<tspan class="st" dx="1.2" dy="-1.2">**</tspan></text><text x="162.6" y="162.69" class="lab" text-anchor="end">Epigenomic</text><text x="417.5" y="166.39" class="lab">68% (179)<tspan class="st" dx="1.2" dy="-1.2">**</tspan></text><text x="162.6" y="189.52" class="lab" text-anchor="end">PI3K–AKT</text><text x="417.5" y="193.22" class="lab">29% (76)<tspan class="st" dx="1.2" dy="-1.2">**</tspan></text><text x="162.6" y="216.35" class="lab" text-anchor="end">JAK–STAT</text><text x="417.5" y="220.05" class="lab">25% (65)<tspan class="st" dx="1.2" dy="-1.2">**</tspan></text><text x="162.6" y="243.18" class="lab" text-anchor="end">Ras</text><text x="417.5" y="246.88" class="lab">14% (36)<tspan class="st" dx="1.2" dy="-1.2">**</tspan></text><text x="162.6" y="270.01" class="lab" text-anchor="end">Ribosomal</text><text x="417.5" y="273.71" class="lab">13% (35)<tspan class="st" dx="1.2" dy="-1.2">**</tspan></text><text x="162.6" y="296.84" class="lab" text-anchor="end">Ubiquitination</text><text x="417.5" y="300.54" class="lab">9% (24)<tspan class="st" dx="1.2" dy="-1.2">**</tspan></text><text x="162.6" y="323.67" class="lab" text-anchor="end">RNA processing</text><text x="417.5" y="327.37" class="lab">9% (24)</text><text x="179.30" y="61.20" class="hd" transform="rotate(-45 179.30 61.20)">LMO2/LYL1</text><text x="206.10" y="61.20" class="hd" transform="rotate(-45 206.10 61.20)">HOXA</text><text x="232.90" y="61.20" class="hd" transform="rotate(-45 232.90 61.20)">TLX3</text><text x="259.70" y="61.20" class="hd" transform="rotate(-45 259.70 61.20)">TLX1</text><text x="286.50" y="61.20" class="hd" transform="rotate(-45 286.50 61.20)">NKX2-1</text><text x="313.30" y="61.20" class="hd" transform="rotate(-45 313.30 61.20)">LMO1/2</text><text x="340.10" y="61.20" class="hd" transform="rotate(-45 340.10 61.20)">TAL1</text><text x="366.90" y="61.20" class="hd" transform="rotate(-45 366.90 61.20)">TAL2</text><text x="393.70" y="61.20" class="hd ur" transform="rotate(-45 393.70 61.20)">Unknown</text><text x="418" y="61" class="lab">% (<tspan font-style="italic">N</tspan>)</text><circle cx="173" cy="344.50" r="4" fill="#0f7fc5"/><text x="181" y="347.40" class="lg" fill="#2a84c8" stroke="#2a84c8" stroke-width="0.15">Missense</text><circle cx="173" cy="357.35" r="4" fill="#ee3d43"/><text x="181" y="360.25" class="lg" fill="#e0474c" stroke="#e0474c" stroke-width="0.15">Frameshift</text><circle cx="173" cy="370.20" r="4" fill="#f5821f"/><text x="181" y="373.10" class="lg" fill="#f0892e" stroke="#f0892e" stroke-width="0.15">Nonsense</text><circle cx="173" cy="383.05" r="4" fill="#5c54a8"/><text x="181" y="385.95" class="lg" fill="#6660ad" stroke="#6660ad" stroke-width="0.15">Splice</text><circle cx="251" cy="344.50" r="4" fill="#151515"/><text x="259.3" y="347.40" class="lg" fill="#1a1a1a" stroke="#1a1a1a" stroke-width="0.15">Noncoding</text><circle cx="251" cy="357.35" r="4" fill="#9b5fbf"/><text x="259.3" y="360.25" class="lg" fill="#a06ac4" stroke="#a06ac4" stroke-width="0.15">Splice region</text><circle cx="251" cy="370.20" r="4" fill="#8e9090"/><text x="259.3" y="373.10" class="lg" fill="#8e9090" stroke="#8e9090" stroke-width="0.15">Protein deletion</text><circle cx="251" cy="383.05" r="4" fill="#a4564b"/><text x="259.3" y="385.95" class="lg" fill="#a0544a" stroke="#a0544a" stroke-width="0.15">Protein insertion</text><circle cx="351" cy="344.50" r="4" fill="#24c0e9"/><text x="359.4" y="347.40" class="lg" fill="#3bbbe8" stroke="#3bbbe8" stroke-width="0.15">Copy-number loss</text><circle cx="351" cy="357.35" r="4" fill="#ee95bb"/><text x="359.4" y="360.25" class="lg" fill="#f0a0c4" stroke="#f0a0c4" stroke-width="0.15">Copy-number gain</text><circle cx="351" cy="370.20" r="4" fill="#555656"/><text x="359.4" y="373.10" class="lg" fill="#4a4a4a" stroke="#4a4a4a" stroke-width="0.15">Fusion transcript</text>
</svg>
</body></html>
